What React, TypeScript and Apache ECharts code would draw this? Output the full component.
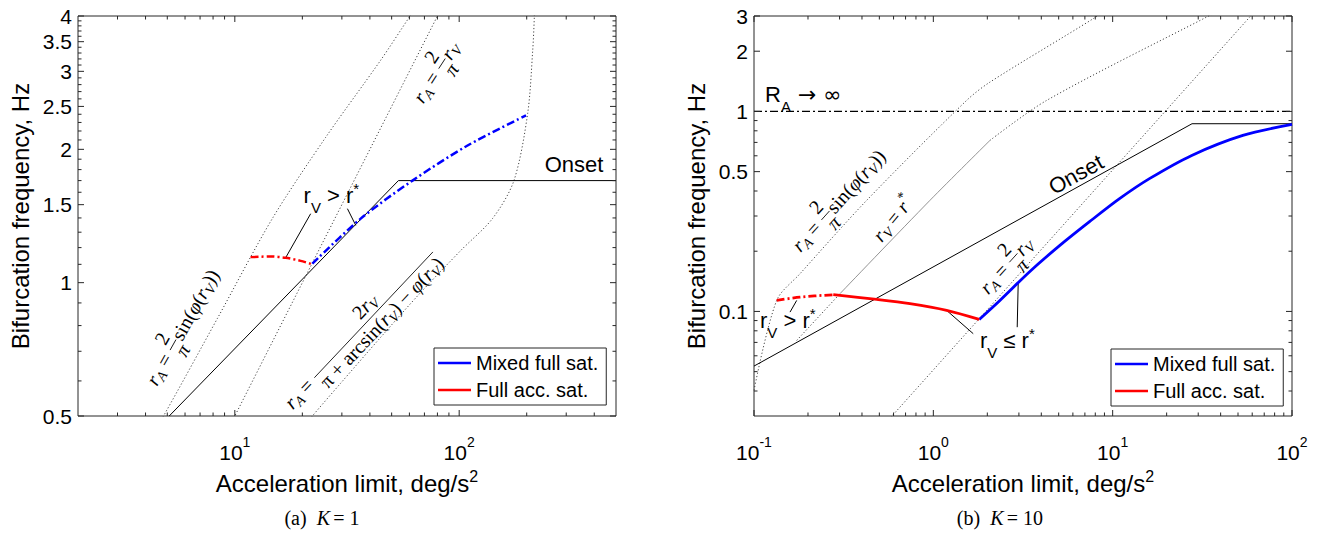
import React, { useEffect, useRef } from "react";
import * as echarts from "echarts";

const SANS = '"Liberation Sans", Arial, Helvetica, sans-serif';
const SERIF = '"Liberation Serif", "Times New Roman", serif';
const SYM = '"DejaVu Sans", sans-serif';
const AXIS_COLOR = "#262626";

// ---------------- (a) K = 1 ----------------
const xRangeA = [2, 500];
const yRangeA = [0.5, 4];
const xMajorTicksA = [10, 100];
const xTickExpA = ["1", "2"];
const xMinorTicksA = [3, 4, 5, 6, 7, 8, 9, 20, 30, 40, 50, 60, 70, 80, 90, 200, 300, 400];
const yMajorTicksA = [0.5, 1, 1.5, 2, 2.5, 3, 3.5, 4];
const yTickLabelsA = ["0.5", "1", "1.5", "2", "2.5", "3", "3.5", "4"];
const yMinorTicksA = [0.6, 0.7, 0.8, 0.9, 1.1, 1.2, 1.3, 1.4, 1.6, 1.7, 1.8, 1.9, 2.1, 2.2, 2.3, 2.4, 2.6, 2.7, 2.8, 2.9, 3.1, 3.2, 3.3, 3.4, 3.6, 3.7, 3.8, 3.9];

const onsetA = [[5.1, 0.5], [53.6, 1.7], [500, 1.7]];
const sinBoundA = [[4.12, 0.441], [4.81, 0.5], [8.37, 0.831], [14.69, 1.395], [25.4, 2.128], [44.7, 3.18], [59.8, 3.97], [67.2, 4.34]];
const linBoundA = [[9, 0.45], [90, 4.5]];
const arcBoundA = [[19.65, 0.464], [22.16, 0.5], [29.64, 0.593], [44.7, 0.753], [67.45, 0.951], [101.8, 1.183], [141, 1.397], [175.4, 1.7], [202, 2.412], [212.7, 3.346], [216.2, 3.97], [217, 4.4]];
const mixedA = [[22.16, 1.104], [36.4, 1.395], [61.9, 1.7], [109, 2.04], [198.6, 2.386]];
const fullAccA = [[11.75, 1.142], [14.43, 1.146], [16.84, 1.138], [19.65, 1.12], [22.16, 1.1]];
const leadersA = [
  [[16.84, 1.138], [21.78, 1.431]],
  [[31.76, 1.469], [34.6, 1.347]],
];

// ---------------- (b) K = 10 ----------------
const xRangeB = [0.1, 100];
const yRangeB = [0.03, 3];
const xMajorTicksB = [0.1, 1, 10, 100];
const xTickExpB = ["-1", "0", "1", "2"];
const xMinorTicksB = [0.2, 0.3, 0.4, 0.5, 0.6, 0.7, 0.8, 0.9, 2, 3, 4, 5, 6, 7, 8, 9, 20, 30, 40, 50, 60, 70, 80, 90];
const yMajorTicksB = [0.1, 0.5, 1, 2, 3];
const yTickLabelsB = ["0.1", "0.5", "1", "2", "3"];
const yMinorTicksB = [0.04, 0.05, 0.06, 0.07, 0.08, 0.09, 0.2, 0.3, 0.4, 0.6, 0.7, 0.8, 0.9];

const onsetB = [[0.1, 0.0533], [27.7, 0.868], [100, 0.868]];
const infLimitB = [[0.1, 1], [100, 1]];
const sinBoundB = [[0.1, 0.0403], [0.1338, 0.1135], [0.1805, 0.1543], [0.4247, 0.359], [1.533, 1.135], [2.068, 1.401], [7.785, 2.908], [10.97, 3.589]];
const rstarLowB = [[0.173, 0.0716], [0.3015, 0.1226]];
const rstarMidB = [[0.3015, 0.1226], [0.957, 0.359], [2.068, 0.716]];
const rstarHighB = [[2.068, 0.716], [4.281, 1.135], [33.37, 2.962], [51.2, 3.589]];
const linBoundB = [[0.5, 0.0255], [80, 4.08]];
const mixedB = [[1.803, 0.0912], [2.351, 0.1135], [3.455, 0.1585], [5.077, 0.2138], [7.46, 0.2818], [10.97, 0.3673], [16.12, 0.4624], [27.6, 0.6026], [53.2, 0.7586], [100, 0.861]];
const fullAccDashB = [[0.1338, 0.1135], [0.1805, 0.1179], [0.2767, 0.1212]];
const fullAccB = [[0.2767, 0.1212], [0.4831, 0.1148], [0.7406, 0.1093], [1.186, 0.1012], [1.803, 0.0912]];
const leadersB = [
  [[0.173, 0.1135], [0.1588, 0.0992]],
  [[1.186, 0.1012], [1.669, 0.0774]],
  [[2.974, 0.1401], [2.936, 0.0834]],
];

// ---------------- label token definitions ----------------
const rA: any[] = [["r", "i"], ["A", "si"]];
const rV: any[] = [["r", "i"], ["V", "si"]];
const twoOverPi = { num: [["2", "n"]], den: [["π", "i"]] };
const sinLabel: any[] = [...rA, [" = ", "n"], twoOverPi, ["sin(", "n"], ["φ", "i"], ["(", "n"], ...rV, ["))", "n"]];
const linLabel: any[] = [...rA, [" = ", "n"], twoOverPi, ...rV];
const arcLabel: any[] = [
  ...rA,
  [" = ", "n"],
  { num: [["2", "n"], ...rV], den: [["π + arcsin(", "n"], ...rV, [") − ", "n"], ["φ", "i"], ["(", "n"], ...rV, [")", "n"]] },
];
const rstarLabel: any[] = [...rV, [" = ", "n"], ["r", "i"], ["*", "pn"]];
const gtLabel: any[] = [["r", "n"], ["V", "sn"], [" > r", "n"], ["*", "pn"]];
const leLabel: any[] = [["r", "n"], ["V", "sn"], [" ≤ r", "n"], ["*", "pn"]];
const raLabel: any[] = [["R", "n"], ["A", "sn"], [" → ∞", "m"]];
const onsetLabel: any[] = [["Onset", "n"]];

const annotationsA = [
  { at: [5.84, 0.793], toks: sinLabel, angle: 60.7, kind: "math" },
  { at: [78.7, 2.985], toks: linLabel, angle: 57, kind: "math" },
  { at: [36.3, 0.789], toks: arcLabel, angle: 46.7, kind: "math" },
  { at: [20.26, 1.574], toks: gtLabel, angle: 0, kind: "sans", align: "left" },
  { at: [325, 1.85], toks: onsetLabel, angle: 0, kind: "sans" },
];
const annotationsB = [
  { at: [0.2958, 0.359], toks: sinLabel, angle: 48, kind: "math" },
  { at: [0.5955, 0.2917], toks: rstarLabel, angle: 50.8, kind: "math" },
  { at: [2.54, 0.1698], toks: linLabel, angle: 47.8, kind: "math" },
  { at: [0.1152, 1.21], toks: raLabel, angle: 0, kind: "sans", align: "left" },
  { at: [6.24, 0.484], toks: onsetLabel, angle: 29, kind: "sans" },
  { at: [0.108, 0.09], toks: gtLabel, angle: 0, kind: "sans", align: "left" },
  { at: [1.819, 0.0716], toks: leLabel, angle: 0, kind: "sans", align: "left" },
];

// ---------------- helpers ----------------
let mctx: any = null;
function measure(t: string, font: string) {
  if (!mctx && typeof document !== "undefined") mctx = document.createElement("canvas").getContext("2d");
  if (!mctx) return t.length * 8;
  mctx.font = font;
  return mctx.measureText(t).width;
}

const KINDS: any = {
  math: { fam: SERIF, size: 20, sub: 0.3, sup: -0.35, numDy: -0.62, denDy: 0.56 },
  sans: { fam: SANS, size: 22, sub: 0.55, sup: -0.3, numDy: -0.5, denDy: 0.5 },
};

function tokStyle(kind: string, cfg: any) {
  const s = cfg.size;
  const sm = Math.round(s * 0.7);
  switch (kind) {
    case "i": return { font: `italic ${s}px ${cfg.fam}`, dy: 0 };
    case "si": return { font: `italic ${sm}px ${cfg.fam}`, dy: s * cfg.sub };
    case "sn": return { font: `${sm}px ${cfg.fam}`, dy: s * cfg.sub };
    case "pn": return { font: `${sm}px ${cfg.fam}`, dy: s * cfg.sup };
    case "m": return { font: `${s}px ${SYM}`, dy: 0 };
    default: return { font: `${s}px ${cfg.fam}`, dy: 0 };
  }
}

function textEl(x: number, y: number, text: string, font: string) {
  return {
    type: "text",
    x,
    y,
    style: { text, font, fill: "#000", textAlign: "left", textVerticalAlign: "middle", align: "left", verticalAlign: "middle" },
  };
}

function runWidth(toks: any[], cfg: any) {
  let w = 0;
  toks.forEach((t: any) => { w += measure(t[0], tokStyle(t[1], cfg).font); });
  return w;
}

function layoutRun(toks: any[], cfg: any, x0: number, y0: number, out: any[]) {
  let x = x0;
  toks.forEach((t: any) => {
    const st = tokStyle(t[1], cfg);
    out.push(textEl(x, y0 + st.dy, t[0], st.font));
    x += measure(t[0], st.font);
  });
  return x;
}

function pieceWidth(p: any, cfg: any) {
  if (Array.isArray(p)) return measure(p[0], tokStyle(p[1], cfg).font);
  return Math.max(runWidth(p.num, cfg), runWidth(p.den, cfg)) + 4;
}

function layoutLabel(toks: any[], cfg: any, align: string) {
  let total = 0;
  toks.forEach((p: any) => { total += pieceWidth(p, cfg); });
  let x = align === "left" ? 0 : -total / 2;
  const out: any[] = [];
  toks.forEach((p: any) => {
    if (Array.isArray(p)) {
      x = layoutRun([p], cfg, x, 0, out);
    } else {
      const nw = runWidth(p.num, cfg);
      const dw = runWidth(p.den, cfg);
      const w = Math.max(nw, dw) + 4;
      layoutRun(p.num, cfg, x + (w - nw) / 2, cfg.size * cfg.numDy, out);
      layoutRun(p.den, cfg, x + (w - dw) / 2, cfg.size * cfg.denDy, out);
      const by = cfg.size * 0.02;
      out.push({ type: "line", shape: { x1: x + 1, y1: by, x2: x + w - 1, y2: by }, style: { stroke: "#000", lineWidth: 0.8 } });
      x += w;
    }
  });
  return out;
}

function labelSeries(idx: number, anns: any[], dummy: number[]) {
  return {
    type: "custom",
    xAxisIndex: idx,
    yAxisIndex: idx,
    clip: false,
    silent: true,
    z: 20,
    data: [dummy],
    renderItem: (_params: any, api: any) => ({
      type: "group",
      children: anns.map((a: any) => {
        const p = api.coord(a.at);
        return {
          type: "group",
          x: p[0],
          y: p[1],
          rotation: ((a.angle || 0) * Math.PI) / 180,
          children: layoutLabel(a.toks, KINDS[a.kind], a.align || "center"),
        };
      }),
    }),
  };
}

function axisDecorSeries(idx: number, xr: number[], yr: number[], xMaj: number[], xExp: string[], xMin: number[], yMaj: number[], yLab: string[], yMin: number[]) {
  return {
    type: "custom",
    xAxisIndex: idx,
    yAxisIndex: idx,
    clip: false,
    silent: true,
    z: 15,
    data: [[xMaj[0], yMaj[0]]],
    renderItem: (_params: any, api: any) => {
      const bl = api.coord([xr[0], yr[0]]);
      const tr = api.coord([xr[1], yr[1]]);
      const L = bl[0], B = bl[1], R = tr[0], T = tr[1];
      const ch: any[] = [];
      const tick = (x1: number, y1: number, x2: number, y2: number) =>
        ch.push({ type: "line", shape: { x1, y1, x2, y2 }, style: { stroke: AXIS_COLOR, lineWidth: 1 } });
      xMaj.forEach((v) => { const x = api.coord([v, yr[0]])[0]; tick(x, B, x, B - 6); tick(x, T, x, T + 6); });
      xMin.forEach((v) => { const x = api.coord([v, yr[0]])[0]; tick(x, B, x, B - 3.5); tick(x, T, x, T + 3.5); });
      yMaj.forEach((v) => { const y = api.coord([xr[0], v])[1]; tick(L, y, L + 6, y); tick(R, y, R - 6, y); });
      yMin.forEach((v) => { const y = api.coord([xr[0], v])[1]; tick(L, y, L + 3.5, y); tick(R, y, R - 3.5, y); });
      xMaj.forEach((v, i) => {
        const x = api.coord([v, yr[0]])[0];
        ch.push({
          type: "text",
          x,
          y: B + 36,
          style: {
            text: `{b|10}{s|${xExp[i]}}`,
            rich: {
              b: { font: `21px ${SANS}`, fill: "#000", lineHeight: 34 },
              s: { font: `14px ${SANS}`, fill: "#000", verticalAlign: "top", lineHeight: 14 },
            },
            fill: "#000",
            textAlign: "center",
            textVerticalAlign: "middle",
            align: "center",
            verticalAlign: "middle",
          },
        });
      });
      yMaj.forEach((v, i) => {
        const y = api.coord([xr[0], v])[1];
        ch.push({
          type: "text",
          x: L - 6,
          y,
          style: { text: yLab[i], font: `21px ${SANS}`, fill: "#000", textAlign: "right", textVerticalAlign: "middle", align: "right", verticalAlign: "middle" },
        });
      });
      return { type: "group", children: ch };
    },
  };
}

function lineSeries(name: string, idx: number, data: number[][], color: string, width: number, type: any, smooth: any, z: number) {
  return {
    type: "line",
    name,
    xAxisIndex: idx,
    yAxisIndex: idx,
    data,
    showSymbol: false,
    symbol: "none",
    smooth,
    silent: true,
    z,
    lineStyle: { color, width, type },
    itemStyle: { color },
    emphasis: { disabled: true },
  };
}

const DOT = [1.2, 2.2];
const DASHDOT = [8, 3, 2, 3];
const BLUE = "#0000ff";
const RED = "#ff0000";
const DOTC = "#444";

function xAxisCfg(idx: number, r: number[]) {
  return {
    type: "log",
    logBase: 10,
    gridIndex: idx,
    min: r[0],
    max: r[1],
    axisLine: { show: false },
    axisTick: { show: false },
    axisLabel: { show: false },
    splitLine: { show: false },
    name: "{t|Acceleration limit, deg/s}{s|2}",
    nameLocation: "middle",
    nameGap: 52,
    nameTextStyle: {
      color: "#000",
      rich: {
        t: { fontSize: 24, fontFamily: SANS, color: "#000", lineHeight: 30 },
        s: { fontSize: 16, fontFamily: SANS, color: "#000", verticalAlign: "top", lineHeight: 16 },
      },
    },
  };
}

function yAxisCfg(idx: number, r: number[]) {
  return {
    type: "log",
    logBase: 10,
    gridIndex: idx,
    min: r[0],
    max: r[1],
    axisLine: { show: false },
    axisTick: { show: false },
    axisLabel: { show: false },
    splitLine: { show: false },
    name: "Bifurcation frequency, Hz",
    nameLocation: "middle",
    nameGap: 46,
    nameTextStyle: { color: "#000", fontSize: 24, fontFamily: SANS },
  };
}

function legendCfg(left: number, top: number) {
  return {
    left,
    top,
    orient: "vertical",
    data: [
      { name: "Mixed full sat.", itemStyle: { color: BLUE } },
      { name: "Full acc. sat.", itemStyle: { color: RED } },
    ],
    icon: "rect",
    itemWidth: 33,
    itemHeight: 2.5,
    itemGap: 7,
    padding: [5, 8, 5, 4],
    borderColor: AXIS_COLOR,
    borderWidth: 1,
    backgroundColor: "#fff",
    selectedMode: false,
    textStyle: { fontSize: 20, fontFamily: SANS, color: "#000" },
    z: 40,
  };
}

function captionEl(x: number, letter: string, kval: string) {
  return {
    type: "text",
    x,
    y: 518,
    style: {
      text: `{n|(${letter})}   {i|K} {n|= ${kval}}`,
      rich: { n: { font: `20px ${SERIF}`, fill: "#000" }, i: { font: `italic 20px ${SERIF}`, fill: "#000" } },
      fill: "#000",
      textAlign: "center",
      textVerticalAlign: "middle",
      align: "center",
      verticalAlign: "middle",
    },
  };
}

function buildOption() {
  const series: any[] = [
    // (a)
    lineSeries("sinA", 0, sinBoundA, DOTC, 1, DOT, 0.3, 2),
    lineSeries("linA", 0, linBoundA, DOTC, 1, DOT, false, 2),
    lineSeries("arcA", 0, arcBoundA, DOTC, 1, DOT, 0.3, 2),
    lineSeries("onsetA", 0, onsetA, "#000", 1, "solid", false, 3),
    ...leadersA.map((d, i) => lineSeries("leadA" + i, 0, d, "#000", 1, "solid", false, 3)),
    lineSeries("Full acc. sat.", 0, fullAccA, RED, 2.5, DASHDOT, 0.3, 5),
    lineSeries("Mixed full sat.", 0, mixedA, BLUE, 2.5, DASHDOT, 0.3, 5),
    // (b)
    lineSeries("infB", 1, infLimitB, "#000", 1.4, DASHDOT, false, 3),
    lineSeries("sinB", 1, sinBoundB, DOTC, 1, DOT, 0.3, 2),
    lineSeries("rstarLowB", 1, rstarLowB, DOTC, 1, DOT, false, 2),
    lineSeries("rstarMidB", 1, rstarMidB, "#777", 0.8, "solid", 0.3, 2),
    lineSeries("rstarHighB", 1, rstarHighB, DOTC, 1, DOT, 0.3, 2),
    lineSeries("linB", 1, linBoundB, DOTC, 1, DOT, false, 2),
    lineSeries("onsetB", 1, onsetB, "#000", 1, "solid", false, 3),
    ...leadersB.map((d, i) => lineSeries("leadB" + i, 1, d, "#000", 1, "solid", false, 3)),
    lineSeries("Mixed full sat.", 1, mixedB, BLUE, 2.8, "solid", 0.3, 5),
    lineSeries("Full acc. sat.", 1, fullAccB, RED, 2.8, "solid", 0.3, 5),
    lineSeries("fullAccDashB", 1, fullAccDashB, RED, 2.8, DASHDOT, 0.3, 5),
    axisDecorSeries(0, xRangeA, yRangeA, xMajorTicksA, xTickExpA, xMinorTicksA, yMajorTicksA, yTickLabelsA, yMinorTicksA),
    axisDecorSeries(1, xRangeB, yRangeB, xMajorTicksB, xTickExpB, xMinorTicksB, yMajorTicksB, yTickLabelsB, yMinorTicksB),
    labelSeries(0, annotationsA, [10, 1]),
    labelSeries(1, annotationsB, [1, 1]),
  ];

  return {
    animation: false,
    backgroundColor: "#fff",
    grid: [
      { left: 78, top: 16, width: 538, height: 400, show: true, borderColor: AXIS_COLOR, borderWidth: 1, backgroundColor: "transparent", containLabel: false },
      { left: 754, top: 16, width: 538, height: 400, show: true, borderColor: AXIS_COLOR, borderWidth: 1, backgroundColor: "transparent", containLabel: false },
    ],
    xAxis: [xAxisCfg(0, xRangeA), xAxisCfg(1, xRangeB)],
    yAxis: [yAxisCfg(0, yRangeA), yAxisCfg(1, yRangeB)],
    legend: [legendCfg(434, 348), legendCfg(1111, 349)],
    graphic: [captionEl(322, "a", "1"), captionEl(1000, "b", "10")],
    series,
  };
}

export default function App() {
  const ref = useRef<HTMLDivElement>(null);
  useEffect(() => {
    if (!ref.current) return;
    const chart = echarts.init(ref.current, undefined, { renderer: "svg", width: 1322, height: 541 });
    chart.setOption(buildOption() as any);
    return () => chart.dispose();
  }, []);
  return (
    <div
      ref={ref}
      style={{ position: "fixed", left: 0, top: 0, width: 1322, height: 541, background: "#fff" }}
    />
  );
}
